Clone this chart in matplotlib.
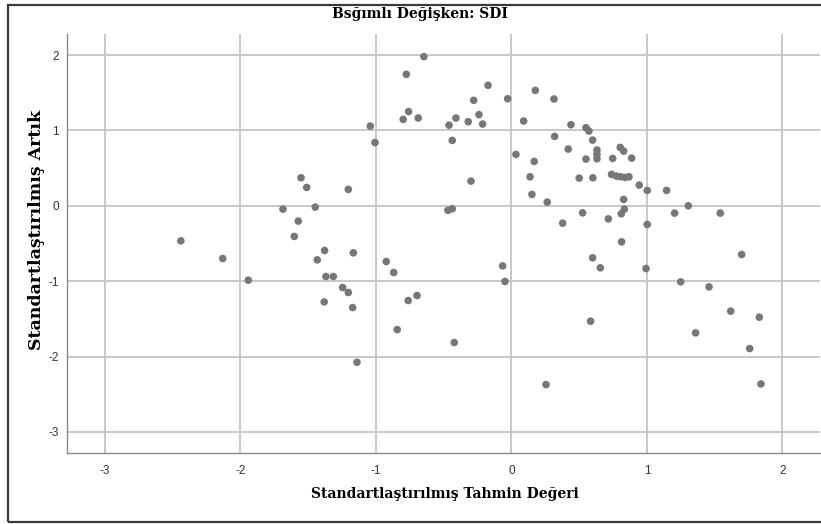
import matplotlib.pyplot as plt
from matplotlib.patches import Rectangle

plt.rcParams['axes.unicode_minus'] = False

# Standardized predicted value (x) and standardized residual (y)
predicted = [-2.44, -2.131, -1.942, -1.686, -1.603, -1.573, -1.553, -1.511, -1.448, -1.433,
             -1.382, -1.379, -1.369, -1.315, -1.246, -1.204, -1.204, -1.172, -1.167, -1.14,
             -1.042, -1.007, -0.924, -0.869, -0.843, -0.799, -0.776, -0.762, -0.759, -0.697,
             -0.688, -0.646, -0.469, -0.461, -0.437, -0.437, -0.422, -0.41, -0.319, -0.299,
             -0.279, -0.24, -0.213, -0.173, -0.065, -0.048, -0.028, 0.033, 0.09, 0.137,
             0.151, 0.168, 0.176, 0.255, 0.264, 0.314, 0.319, 0.378, 0.419, 0.439,
             0.5, 0.525, 0.55, 0.55, 0.572, 0.584, 0.599, 0.599, 0.601, 0.631,
             0.631, 0.631, 0.656, 0.715, 0.739, 0.747, 0.776, 0.803, 0.806, 0.81,
             0.813, 0.828, 0.828, 0.833, 0.838, 0.867, 0.887, 0.943, 0.993, 1.002,
             1.002, 1.145, 1.204, 1.249, 1.305, 1.359, 1.458, 1.541, 1.618, 1.699,
             1.758, 1.829, 1.841]
residual = [-0.465, -0.699, -0.987, -0.044, -0.406, -0.203, 0.372, 0.244, -0.017, -0.717,
            -1.275, -0.593, -0.938, -0.938, -1.084, 0.218, -1.15, -1.35, -0.624, -2.076,
            1.058, 0.84, -0.739, -0.885, -1.642, 1.147, 1.745, -1.257, 1.25, -1.19,
            1.165, 1.98, -0.06, 1.07, 0.868, -0.04, -1.814, 1.165, 1.116, 0.328,
            1.40, 1.21, 1.085, 1.599, -0.797, -1.004, 1.421, 0.682, 1.125, 0.385,
            0.151, 0.589, 1.532, -2.372, 0.049, 1.417, 0.921, -0.23, 0.753, 1.076,
            0.368, -0.093, 1.036, 0.62, 0.992, -1.531, 0.872, -0.69, 0.372, 0.74,
            0.682, 0.624, -0.823, -0.173, 0.417, 0.629, 0.394, 0.775, 0.385, -0.106,
            -0.478, 0.726, 0.085, -0.044, 0.377, 0.385, 0.633, 0.275, -0.832, 0.204,
            -0.247, 0.204, -0.097, -1.009, 0.0, -1.686, -1.075, -0.097, -1.398, -0.646,
            -1.894, -1.478, -2.364]

x_ticks = [-3, -2, -1, 0, 1, 2]
y_ticks = [-3, -2, -1, 0, 1, 2]

W, H = 821, 524
fig = plt.figure(figsize=(W / 100, H / 100), dpi=100)
fig.patch.set_facecolor('white')

# plot area in pixels: left 67, right 820, top 34, bottom 453
ax = fig.add_axes([67 / W, 1 - 453 / H, (820 - 67) / W, (453 - 34) / H])
ax.scatter(predicted, residual, s=30, color='#777777', edgecolors='none', zorder=3)

ax.set_xlim(-3.28, 2.277)
ax.set_ylim(-3.28, 2.28)
ax.set_xticks(x_ticks)
ax.set_yticks(y_ticks)
ax.grid(True, color='#c4c4c4', linewidth=1.3, zorder=0)
ax.tick_params(length=0, labelsize=8.5, labelcolor='#333333', pad=6)
ax.tick_params(axis='x', pad=9)
for lab in ax.get_xticklabels() + ax.get_yticklabels():
    lab.set_fontfamily('Liberation Sans')

for side in ['top', 'right']:
    ax.spines[side].set_visible(False)
for side in ['left', 'bottom']:
    ax.spines[side].set_color('#8a8a8a')
    ax.spines[side].set_linewidth(1.0)

# titles
fig.text(420 / W, 1 - 14 / H, 'Bsğımlı Değişken: SDI', ha='center', va='center',
         fontsize=10, fontweight='bold', family='DejaVu Serif')
fig.text(445 / W, 1 - 494 / H, 'Standartlaştırılmış Tahmin Değeri', ha='center', va='center',
         fontsize=10, fontweight='bold', family='DejaVu Serif')
fig.text(37 / W, 1 - 230 / H, 'Standartlaştırılmış Artık', ha='center', va='center',
         rotation=90, fontsize=12.5, fontweight='bold', family='DejaVu Serif')

# outer frame
fig.patches.append(Rectangle((8 / W, 1 - 522 / H), 1.0, (522 - 5) / H,
                             transform=fig.transFigure, fill=False,
                             edgecolor='#3a3a3a', linewidth=1.6))

fig.savefig('out.png', dpi=100)
